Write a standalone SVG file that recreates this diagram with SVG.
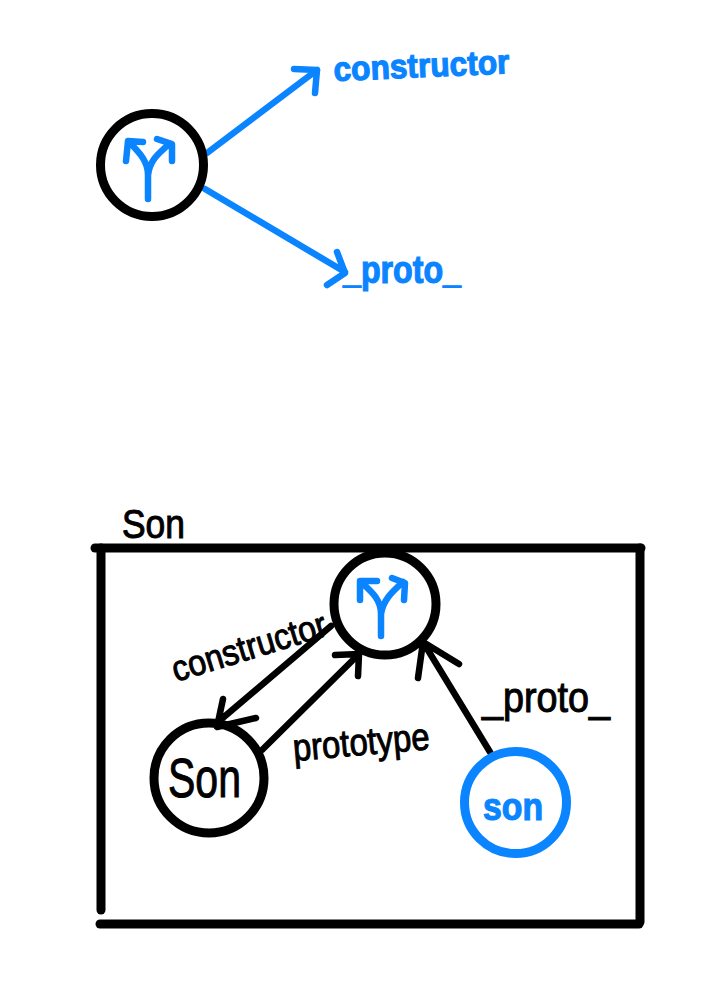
<svg xmlns="http://www.w3.org/2000/svg" width="713" height="997" viewBox="0 0 713 997">
<style>
.s{fill:none;stroke-linecap:round;stroke-linejoin:round}
.k{stroke:#000}
.b{stroke:#0a84ff}
.w9{stroke-width:9}
.w6{stroke-width:6.5}
.t{font-family:"Liberation Sans",Arial,sans-serif}
.tk{fill:#000;stroke:#000;stroke-width:1}
.tb{fill:#0a84ff;stroke:#0a84ff;stroke-width:1.2;font-weight:bold}
</style>
<rect width="713" height="997" fill="#fff"/>
<g id="frame">
<path class="s k w9" d="M95 548H641"/>
<path class="s k w9" d="M101 548V910"/>
<path class="s k w9" d="M640 548V922"/>
<path class="s k w9" d="M100 924H639"/>
</g>
<g id="connectors">
<path class="s b w6" d="M207 153L317 70M294 69L317 70L315 93"/>
<path class="s b w6" d="M205 189L345 272M337 252L345 273L327 285"/>
<path class="s k w6" d="M331 626L218 722M223 699L217 727L256 718"/>
<path class="s k w6" d="M262 750L360 653M335 655L359 654L358 676"/>
<path class="s k w6" d="M490 752L423 642M418 678L423 642L459 664"/>
</g>
<g id="node-fork-top">
<circle class="s k w9" cx="152" cy="165" r="51.5"/>
<path class="s b w6" d="M148 199V175C148 162 140 153 130 143M148 175C150 160 158 154 168 145M126 161L128 141L143 142M157 139L172 144L172 161"/>
</g>
<g id="label-constructor-top"><text class="t tb" transform="translate(334 81) rotate(-2.5)" font-size="34" textLength="176" lengthAdjust="spacingAndGlyphs">constructor</text></g>
<g id="label-proto-top"><text class="t tb" x="343" y="283" font-size="38" textLength="118" lengthAdjust="spacingAndGlyphs">_proto_</text></g>
<g id="label-son-title"><text class="t tk" x="122" y="538" font-size="40" textLength="63" lengthAdjust="spacingAndGlyphs">Son</text></g>
<g id="node-fork-bottom">
<circle class="s k w9" cx="385" cy="604" r="51"/>
<path class="s b w6" d="M381 636V614C381 600 372 592 362 583M381 614C383 600 392 592 403 582M360 600V581L377 581M392 578L405 583L404 600"/>
</g>
<g id="node-son-black">
<circle class="s k w9" cx="209" cy="778" r="55"/>
<text class="t tk" x="168" y="797" font-size="56" textLength="73" lengthAdjust="spacingAndGlyphs">Son</text>
</g>
<g id="node-son-blue">
<circle class="s b w9" cx="515.5" cy="802.5" r="51"/>
<text class="t tb" x="483" y="820" font-size="38" textLength="60" lengthAdjust="spacingAndGlyphs">son</text>
</g>
<g id="label-constructor"><text class="t tk" transform="translate(176 682) rotate(-17)" font-size="36" textLength="160" lengthAdjust="spacingAndGlyphs">constructor</text></g>
<g id="label-prototype"><text class="t tk" transform="translate(294 761) rotate(-5)" font-size="38" textLength="137" lengthAdjust="spacingAndGlyphs">prototype</text></g>
<g id="label-proto"><text class="t tk" x="482" y="712" font-size="42" textLength="128" lengthAdjust="spacingAndGlyphs">_proto_</text></g>
</svg>
